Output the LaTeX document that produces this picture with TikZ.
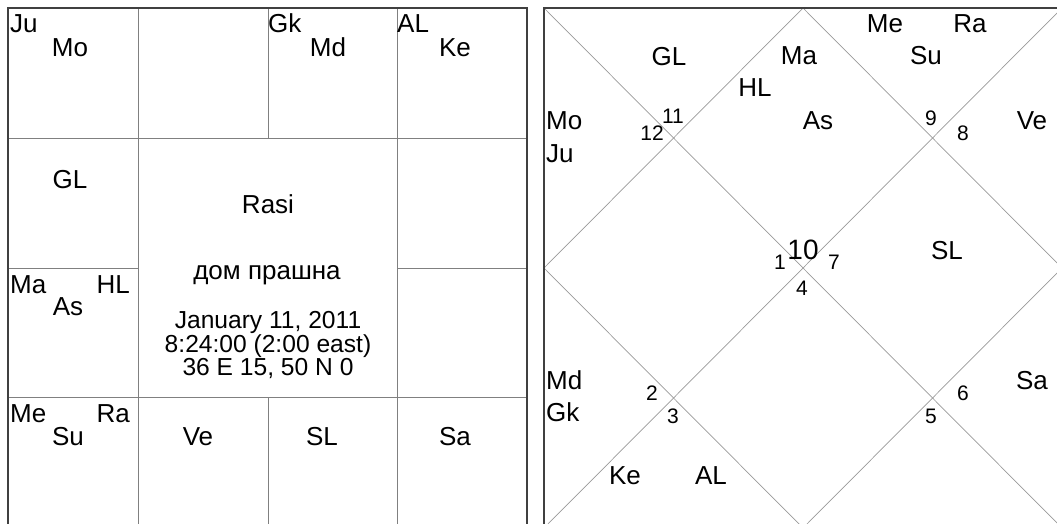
\documentclass[tikz,border=0pt]{standalone}
\usepackage{fontspec}
\setmainfont{Liberation Sans}
\begin{document}
\begin{tikzpicture}[x=1pt, y=-1pt]
    \tikzset{planet/.style={anchor=base, inner sep=0pt, font=\fontsize{26}{26}\selectfont},
             info/.style={anchor=base, inner sep=0pt, font=\fontsize{24.6}{24.6}\selectfont},
             house/.style={anchor=base, inner sep=0pt, font=\fontsize{21}{21}\selectfont},
             frame/.style={draw=black!75, line width=2pt},
             cell/.style={draw=black!50, line width=0.8pt},
             cross/.style={draw=black!40, line width=0.7pt}}
    \useasboundingbox (0,0) rectangle (1057,524);
    % rasi chart (south indian style)
    \coordinate (rTL) at (8,8);
    \coordinate (rBR) at (527,527);
    \foreach \i in {138,397} {
        \draw[cell] (\i,8) -- (\i,527);
        \draw[cell] (8,\i) -- (527,\i);
    }
    \draw[cell] (268,8) -- (268,138) (268,397) -- (268,527);
    \draw[cell] (8,268) -- (138,268) (397,268) -- (527,268);
    \draw[frame] (rTL) rectangle (rBR);
    \node[planet, anchor=base west] (ju1) at (10,33) {Ju};
    \node[planet] (mo1) at (70,57) {Mo};
    \node[planet, anchor=base west] (gk1) at (268,33) {Gk};
    \node[planet] (md1) at (328,57) {Md};
    \node[planet, anchor=base west] (al1) at (397,33) {AL};
    \node[planet] (ke1) at (455,57) {Ke};
    \node[planet] (gl1) at (70,188) {GL};
    \node[planet, anchor=base west] (ma1) at (10,293) {Ma};
    \node[planet, anchor=base east] (hl1) at (130,293) {HL};
    \node[planet] (as1) at (68,315) {As};
    \node[planet, anchor=base west] (me1) at (10,422) {Me};
    \node[planet, anchor=base east] (ra1) at (130,422) {Ra};
    \node[planet] (su1) at (68,445) {Su};
    \node[planet] (ve1) at (198,445) {Ve};
    \node[planet] (sl1) at (322,445) {SL};
    \node[planet] (sa1) at (455,445) {Sa};
    \node[planet] (title) at (268,213) {Rasi};
    \node[planet] (place) at (267,279) {дом прашна};
    \node[info] (info1) at (268,328) {January 11, 2011};
    \node[info] (info2) at (268,352) {8:24:00 (2:00 east)};
    \node[info] (info3) at (268,375) {36 E 15, 50 N 0};
    % bhava chart (north indian style)
    \coordinate (bTL) at (544,8);
    \coordinate (bTR) at (1062,8);
    \coordinate (bBL) at (544,528);
    \coordinate (bBR) at (1062,528);
    \coordinate (bT) at (803,8);
    \coordinate (bL) at (544,268);
    \coordinate (bR) at (1062,268);
    \coordinate (bB) at (803,528);
    \draw[cross] (bTL) -- (bBR) (bTR) -- (bBL);
    \draw[cross] (bT) -- (bR) -- (bB) -- (bL) -- cycle;
    \draw[frame] (bTL) rectangle (bBR);
    \node[house] (h1) at (780,269) {1};
    \node[house] (h2) at (652,400) {2};
    \node[house] (h3) at (673,423) {3};
    \node[house] (h4) at (802,295) {4};
    \node[house] (h5) at (931,423) {5};
    \node[house] (h6) at (963,400) {6};
    \node[house] (h7) at (834,269) {7};
    \node[house] (h8) at (963,140) {8};
    \node[house] (h9) at (931,125) {9};
    \node[house, font=\fontsize{28}{28}\selectfont] (h10) at (803,259) {10};
    \node[house] (h11) at (673,124) {11};
    \node[house] (h12) at (652,140) {12};
    \node[planet] (gl2) at (669,66) {GL};
    \node[planet] (ma2) at (799,65) {Ma};
    \node[planet] (hl2) at (755,97) {HL};
    \node[planet] (as2) at (818,129) {As};
    \node[planet] (me2) at (885,33) {Me};
    \node[planet] (ra2) at (970,33) {Ra};
    \node[planet] (su2) at (926,65) {Su};
    \node[planet] (ve2) at (1032,129) {Ve};
    \node[planet, anchor=base west] (mo2) at (546,129) {Mo};
    \node[planet, anchor=base west] (ju2) at (546,162) {Ju};
    \node[planet] (sl2) at (947,259) {SL};
    \node[planet, anchor=base west] (md2) at (546,389) {Md};
    \node[planet, anchor=base west] (gk2) at (546,421) {Gk};
    \node[planet] (sa2) at (1032,389) {Sa};
    \node[planet] (ke2) at (625,484) {Ke};
    \node[planet] (al2) at (711,484) {AL};
\end{tikzpicture}
\end{document}
